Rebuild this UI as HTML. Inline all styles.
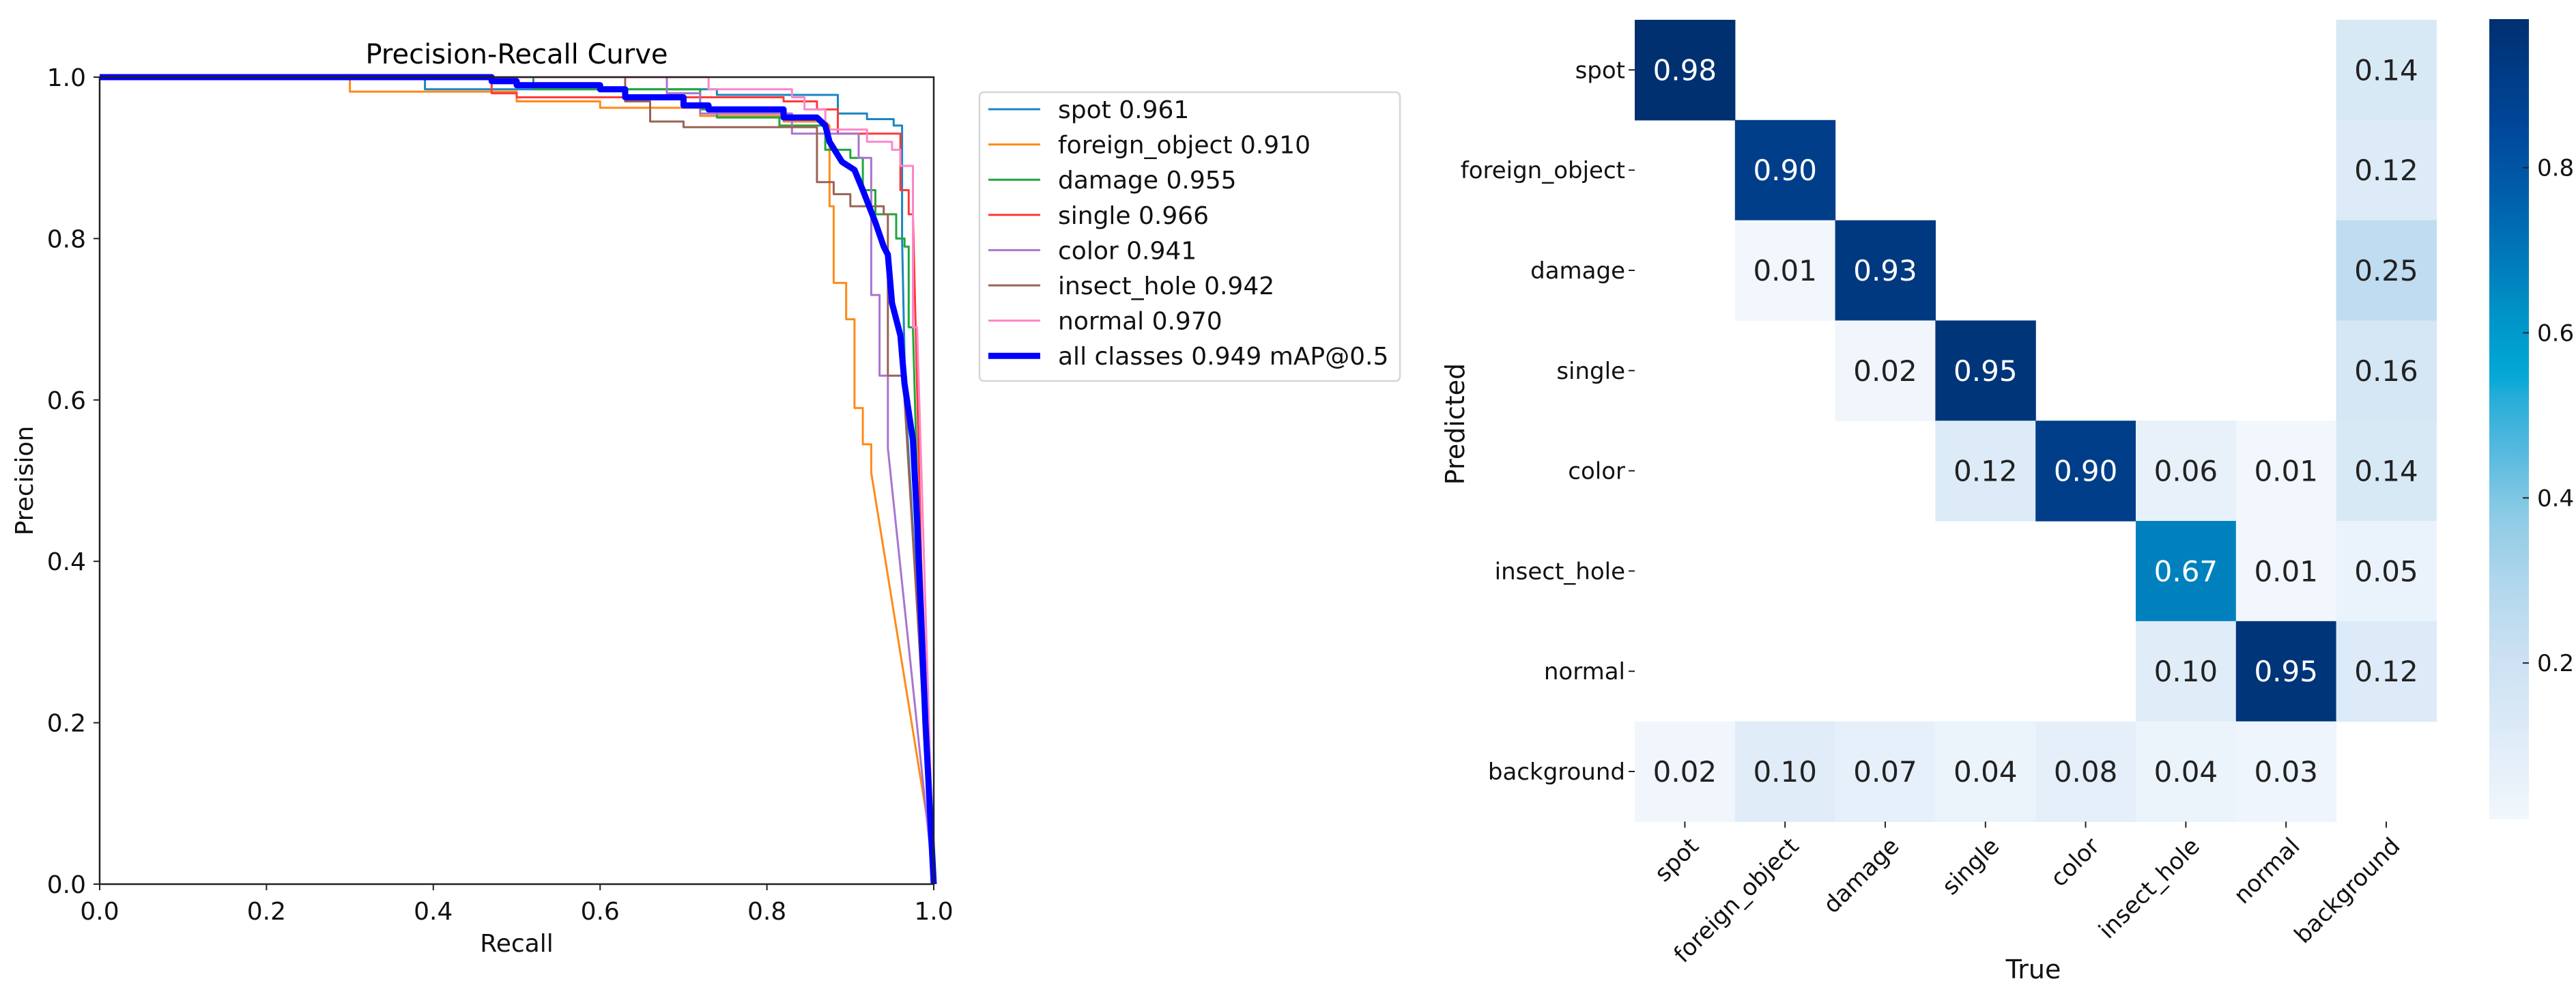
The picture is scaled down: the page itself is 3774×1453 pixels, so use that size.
<!DOCTYPE html>
<html><head><meta charset="utf-8"><style>
html,body{margin:0;padding:0;background:#fff;}
svg{display:block;font-family:"DejaVu Sans","Liberation Sans",sans-serif;}
</style></head><body>
<svg id="root" width="3774" height="1453" viewBox="0 0 3774 1453" xmlns="http://www.w3.org/2000/svg">
<rect width="3774" height="1453" fill="#fff"/>
<g id="pr"></g>
<g id="cm"></g>
</svg>
<script>
// ---------- PR curve data ----------
const prClasses = ["spot 0.961","foreign_object 0.910","damage 0.955","single 0.966","color 0.941","insect_hole 0.942","normal 0.970","all classes 0.949 mAP@0.5"];
const prColors = ["#1a86c2","#ff8a1a","#1fa83a","#ff3a3a","#a974cf","#9a6356","#ff85c8","#0000ff"];
const spotPts = [[0,1],[0.39,1],[0.39,0.985],[0.74,0.985],[0.74,0.978],[0.885,0.978],[0.885,0.955],[0.92,0.955],[0.92,0.948],[0.952,0.948],[0.952,0.94],[0.962,0.94],[0.962,0.8],[0.966,0.6],[1,0]];
const foreignPts = [[0,1],[0.3,1],[0.3,0.982],[0.5,0.982],[0.5,0.97],[0.6,0.97],[0.6,0.962],[0.72,0.962],[0.72,0.952],[0.82,0.952],[0.82,0.945],[0.87,0.945],[0.875,0.94],[0.875,0.84],[0.88,0.84],[0.88,0.745],[0.895,0.745],[0.895,0.70],[0.905,0.70],[0.905,0.59],[0.915,0.59],[0.915,0.545],[0.925,0.545],[0.925,0.51],[1,0.03]];
const damagePts = [[0,1],[0.52,1],[0.52,0.985],[0.72,0.985],[0.72,0.96],[0.74,0.96],[0.74,0.95],[0.815,0.95],[0.815,0.94],[0.87,0.94],[0.87,0.91],[0.9,0.91],[0.9,0.9],[0.915,0.9],[0.915,0.86],[0.93,0.86],[0.93,0.83],[0.955,0.83],[0.955,0.8],[0.965,0.8],[0.965,0.79],[0.97,0.79],[0.97,0.69],[0.975,0.69],[0.98,0.5],[1,0]];
const singlePts = [[0,1],[0.47,1],[0.47,0.98],[0.5,0.98],[0.5,0.975],[0.82,0.975],[0.82,0.97],[0.86,0.97],[0.86,0.96],[0.885,0.96],[0.885,0.93],[0.96,0.93],[0.96,0.86],[0.97,0.86],[0.97,0.83],[0.975,0.83],[0.985,0.4],[1,0]];
const colorPts = [[0,1],[0.68,1],[0.68,0.98],[0.72,0.98],[0.72,0.955],[0.83,0.955],[0.83,0.93],[0.91,0.93],[0.91,0.9],[0.925,0.9],[0.925,0.73],[0.935,0.73],[0.935,0.63],[0.945,0.63],[0.945,0.54],[1,0]];
const insectPts = [[0,1],[0.63,1],[0.63,0.97],[0.66,0.97],[0.66,0.945],[0.7,0.945],[0.7,0.938],[0.86,0.938],[0.86,0.87],[0.88,0.87],[0.88,0.855],[0.9,0.855],[0.9,0.84],[0.94,0.84],[0.94,0.83],[0.945,0.83],[0.945,0.63],[0.965,0.63],[0.965,0.6],[1,0]];
const normalPts = [[0,1],[0.73,1],[0.73,0.985],[0.83,0.985],[0.83,0.975],[0.845,0.975],[0.845,0.96],[0.87,0.96],[0.87,0.935],[0.92,0.935],[0.92,0.92],[0.95,0.92],[0.95,0.91],[0.96,0.91],[0.96,0.89],[0.975,0.89],[0.975,0.69],[0.98,0.69],[1,0]];
const allPts = [[0,1],[0.47,1],[0.47,0.995],[0.5,0.995],[0.5,0.99],[0.6,0.99],[0.6,0.985],[0.63,0.985],[0.63,0.975],[0.7,0.975],[0.7,0.965],[0.73,0.965],[0.73,0.96],[0.82,0.96],[0.82,0.95],[0.86,0.95],[0.87,0.94],[0.875,0.92],[0.89,0.895],[0.905,0.885],[0.915,0.86],[0.93,0.82],[0.94,0.79],[0.945,0.78],[0.95,0.72],[0.96,0.68],[0.965,0.62],[0.975,0.55],[0.98,0.45],[0.99,0.2],[1,0]];
const prSeries = [spotPts,foreignPts,damagePts,singlePts,colorPts,insectPts,normalPts,allPts];
const prTicks = ["0.0","0.2","0.4","0.6","0.8","1.0"];

// ---------- Confusion matrix data ----------
const cmLabels = ["spot","foreign_object","damage","single","color","insect_hole","normal","background"];
const rowSpot = [0.98,0,0,0,0,0,0,0.14];
const rowForeign = [0,0.90,0,0,0,0,0,0.12];
const rowDamage = [0,0.01,0.93,0,0,0,0,0.25];
const rowSingle = [0,0,0.02,0.95,0,0,0,0.16];
const rowColor = [0,0,0,0.12,0.90,0.06,0.01,0.14];
const rowInsect = [0,0,0,0,0,0.67,0.01,0.05];
const rowNormal = [0,0,0,0,0,0.10,0.95,0.12];
const rowBackground = [0.02,0.10,0.07,0.04,0.08,0.04,0.03,0];
const cmRows = [rowSpot,rowForeign,rowDamage,rowSingle,rowColor,rowInsect,rowNormal,rowBackground];
const cbTicks = [0.2,0.4,0.6,0.8];

const NS="http://www.w3.org/2000/svg";
function mk(parent,tag,attrs,text){const e=document.createElementNS(NS,tag);for(const k in attrs)e.setAttribute(k,attrs[k]);if(text!==undefined)e.textContent=text;parent.appendChild(e);return e;}

// ---------- PR chart ----------
const pr=document.getElementById('pr');
const AX={l:146,r:1368,t:113,b:1295};
const sx=v=>AX.l+v*(AX.r-AX.l);
const sy=v=>AX.b-v*(AX.b-AX.t);
let t=mk(pr,'text',{x:757,y:93,'font-size':40,'text-anchor':'middle',fill:'#000'},'Precision-Recall Curve');


prSeries.forEach((pts,i)=>{
  const d=pts.map((p,j)=>(j?'L':'M')+sx(p[0]).toFixed(1)+' '+sy(p[1]).toFixed(1)).join(' ');
  const p=mk(pr,'path',{d:d,fill:'none',stroke:prColors[i],'stroke-width':i===7?9:3,'stroke-linejoin':'round'});
  
  
});
const frame=mk(pr,'rect',{x:AX.l,y:AX.t,width:AX.r-AX.l,height:AX.b-AX.t,fill:'none',stroke:'#222','stroke-width':2.5});


prTicks.forEach(lbl=>{
  const v=parseFloat(lbl);
  mk(pr,'line',{x1:sx(v),x2:sx(v),y1:AX.b,y2:AX.b+9,stroke:'#222','stroke-width':2});
  const xl=mk(pr,'text',{x:sx(v),y:1347,'font-size':36,'text-anchor':'middle',fill:'#111'},lbl);
  
  
  mk(pr,'line',{x1:AX.l-9,x2:AX.l,y1:sy(v),y2:sy(v),stroke:'#222','stroke-width':2});
  const yl=mk(pr,'text',{x:126,y:sy(v)+13,'font-size':36,'text-anchor':'end',fill:'#111'},lbl);
  
  
});
t=mk(pr,'text',{x:757,y:1394,'font-size':36,'text-anchor':'middle',fill:'#111'},'Recall');


t=mk(pr,'text',{x:48,y:704,'font-size':36,'text-anchor':'middle',fill:'#111',transform:'rotate(-90 48 704)'},'Precision');


// legend
const lg=mk(pr,'g',{});


mk(lg,'rect',{x:1435,y:135,width:616,height:423,rx:6,fill:'#fff',stroke:'#d6d6d6','stroke-width':2.5});
prClasses.forEach((c,i)=>{
  const y=160+51.6*i;
  const g=mk(lg,'g',{});
  
  
  mk(g,'line',{x1:1448,x2:1524,y1:y,y2:y,stroke:prColors[i],'stroke-width':i===7?9:3});
  mk(g,'text',{x:1550,y:y+13,'font-size':36,fill:'#111'},c);
});

// ---------- Confusion matrix ----------
const cm=document.getElementById('cm');
const CX=2395,CY=29,CS=146.8,N=8;
const vmin=0.0107,vmax=0.98;
const stops=[[0,[244,248,253]],[0.1,[224,237,248]],[0.2,[205,226,243]],[0.3,[176,214,236]],[0.38,[140,203,229]],[0.45,[91,186,223]],[0.52,[40,174,216]],[0.55,[0,168,213]],[0.62,[0,148,200]],[0.75,[0,99,173]],[0.85,[0,71,154]],[1,[0,44,106]]];
function cmap(v){
  let f=Math.max(0,Math.min(1,v));
  for(let i=1;i<stops.length;i++){if(f<=stops[i][0]){const a=stops[i-1],b=stops[i];const u=(f-a[0])/(b[0]-a[0]);return 'rgb('+a[1].map((c,k)=>Math.round(c+(b[1][k]-c)*u)).join(',')+')';}}
  return 'rgb(0,44,106)';
}
cmRows.forEach((row,r)=>{
  row.forEach((v,c)=>{
    if(!v)return;
    const cell=mk(cm,'rect',{x:CX+c*CS,y:CY+r*CS,width:CS+0.6,height:CS+0.6,fill:cmap(v)});
    
    
    const tx=mk(cm,'text',{x:CX+(c+0.5)*CS,y:CY+(r+0.5)*CS+15,'font-size':42,'text-anchor':'middle',fill:v>0.5?'#fff':'#222'},v.toFixed(2));
    
    
  });
});
cmLabels.forEach((lbl,i)=>{
  const cy=CY+(i+0.5)*CS;
  mk(cm,'line',{x1:CX-9,x2:CX,y1:cy,y2:cy,stroke:'#222','stroke-width':2});
  const yl=mk(cm,'text',{x:CX-14,y:cy+12,'font-size':34,'text-anchor':'end',fill:'#111'},lbl);
  
  
  const cx=CX+(i+0.5)*CS;
  mk(cm,'line',{x1:cx,x2:cx,y1:CY+N*CS,y2:CY+N*CS+9,stroke:'#222','stroke-width':2});
  const ax=cx+22,ay=CY+N*CS+38;
  const xl=mk(cm,'text',{x:ax,y:ay,'font-size':34,'text-anchor':'end',fill:'#111',transform:'rotate(-45 '+ax+' '+ay+')'},lbl);
  
  
});
t=mk(cm,'text',{x:2979,y:1433,'font-size':38,'text-anchor':'middle',fill:'#111'},'True');


t=mk(cm,'text',{x:2145,y:621,'font-size':38,'text-anchor':'middle',fill:'#111',transform:'rotate(-90 2145 621)'},'Predicted');


// colorbar
const cbTop=28,cbBot=1200,cbX=3647,cbW=58;
const defs=mk(cm,'defs',{});
const grad=mk(defs,'linearGradient',{id:'cbg',x1:0,y1:1,x2:0,y2:0});
for(let k=0;k<=40;k++){const f=k/40;mk(grad,'stop',{offset:f,'stop-color':cmap(vmin+(vmax-vmin)*f)});}
const cb=mk(cm,'rect',{x:cbX,y:cbTop,width:cbW,height:cbBot-cbTop,fill:'url(#cbg)'});


const cby=v=>cbBot-(v-vmin)/(vmax-vmin)*(cbBot-cbTop);
cbTicks.forEach(v=>{
  mk(cm,'line',{x1:cbX+cbW-9,x2:cbX+cbW,y1:cby(v),y2:cby(v),stroke:'#222','stroke-width':2});
  const tl=mk(cm,'text',{x:cbX+cbW+12,y:cby(v)+12,'font-size':34,fill:'#111'},v.toFixed(1));
  
  
});
</script>
</body></html>
